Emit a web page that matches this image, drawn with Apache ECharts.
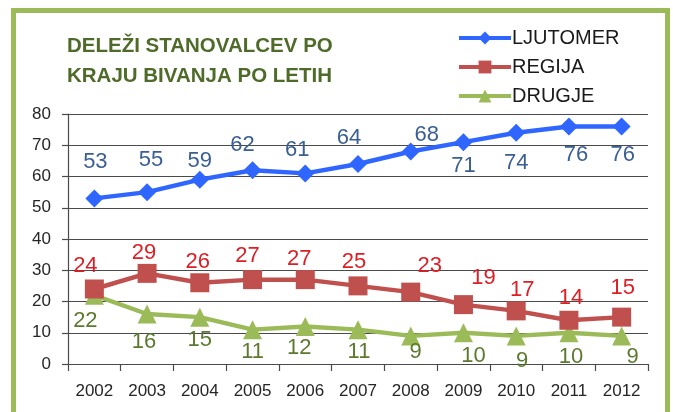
<!DOCTYPE html>
<html>
<head>
<meta charset="utf-8">
<script src="https://cdn.jsdelivr.net/npm/echarts@6/dist/echarts.min.js"></script>
<style>
  html, body { margin: 0; padding: 0; background: #fff; }
  #chart { width: 673px; height: 412px; }
</style>
</head>
<body>
<div id="chart"></div>
<script>
// podatki: deleži stanovalcev po kraju bivanja (%)
const years = ['2002', '2003', '2004', '2005', '2006', '2007', '2008', '2009', '2010', '2011', '2012'];
const ljutomer = [53, 55, 59, 62, 61, 64, 68, 71, 74, 76, 76];
const regija = [24, 29, 26, 27, 27, 25, 23, 19, 17, 14, 15];
const drugje = [22, 16, 15, 11, 12, 11, 9, 10, 9, 10, 9];
const yTicks = [0, 10, 20, 30, 40, 50, 60, 70, 80];

// zamiki oznak glede na točko (kot v izvirni sliki)
const ljutomerOffsets = [[1, -36], [4, -32], [0, -19], [-10, -25], [-8, -23], [-9, -26], [16, -17], [0, 24], [0, 30], [7, 28], [1, 28]];
const regijaOffsets = [[-9, -23], [-3, -20], [-2, -21], [-5, -24], [-6, -21], [-4, -24], [19, -26], [20, -27], [6, -21], [2, -22], [1, -29]];
const drugjeOffsets = [[-9, 26], [-3, 28], [0, 23], [0, 22], [-6, 21], [1, 22], [5, 16], [10, 23], [6, 25], [2, 24], [11, 21]];

const chart = echarts.init(document.getElementById('chart'));

function withLabels(values, offsets) {
  return values.map((v, i) => ({
    value: v,
    label: { offset: offsets[i] }
  }));
}

const axisColor = '#4a4a4a';
const labelFont = 'Liberation Sans';

const option = {
  backgroundColor: '#ffffff',
  animation: false,
  title: {
    text: 'DELEŽI STANOVALCEV PO\nKRAJU BIVANJA PO LETIH',
    left: 62,
    top: 26,
    textStyle: {
      color: '#4f6b2a',
      fontFamily: labelFont,
      fontWeight: 'bold',
      fontSize: 20.5,
      lineHeight: 30
    }
  },
  legend: {
    orient: 'vertical',
    left: 452,
    top: 23,
    itemWidth: 52,
    itemHeight: 16,
    itemGap: 9,
    lineStyle: { width: 4 },
    textStyle: { color: '#1a1a1a', fontFamily: labelFont, fontSize: 20, padding: [0, 0, 0, -4] },
    data: ['LJUTOMER', 'REGIJA', 'DRUGJE']
  },
  graphic: [{
    type: 'rect',
    shape: { x: 13.5, y: 10.5, width: 654, height: 460 },
    style: { fill: 'none', stroke: '#9bbb59', lineWidth: 5 },
    silent: true
  }],
  grid: { left: 68, right: 25, top: 114, bottom: 48 },
  xAxis: {
    type: 'category',
    data: years,
    boundaryGap: true,
    axisLine: { lineStyle: { color: axisColor, width: 1.2 } },
    axisTick: { show: true, length: 7, lineStyle: { color: axisColor, width: 1.2 } },
    axisLabel: { color: '#262626', fontFamily: labelFont, fontSize: 17, margin: 19 },
    splitLine: { show: false }
  },
  yAxis: {
    type: 'value',
    min: yTicks[0],
    max: yTicks[yTicks.length - 1],
    interval: 10,
    axisLine: { show: true, lineStyle: { color: axisColor, width: 1.2 } },
    axisTick: { show: true, length: 6, lineStyle: { color: axisColor, width: 1.2 } },
    axisLabel: { color: '#262626', fontFamily: labelFont, fontSize: 17, margin: 17 },
    splitLine: { show: true, lineStyle: { color: axisColor, width: 1.2 } }
  },
  series: [
    {
      name: 'LJUTOMER',
      type: 'line',
      data: withLabels(ljutomer, ljutomerOffsets),
      symbol: 'diamond',
      symbolSize: 18,
      lineStyle: { color: '#2f66ff', width: 4.5 },
      itemStyle: { color: '#2f66ff' },
      label: {
        show: true, position: 'inside',
        color: '#3a5f93', fontFamily: labelFont, fontSize: 22
      },
      z: 4
    },
    {
      name: 'REGIJA',
      type: 'line',
      data: withLabels(regija, regijaOffsets),
      symbol: 'rect',
      symbolSize: 19,
      lineStyle: { color: '#c0504d', width: 4.5 },
      itemStyle: { color: '#c0504d' },
      label: {
        show: true, position: 'inside',
        color: '#dc1e25', fontFamily: labelFont, fontSize: 22
      },
      z: 3
    },
    {
      name: 'DRUGJE',
      type: 'line',
      data: withLabels(drugje, drugjeOffsets),
      symbol: 'triangle',
      symbolSize: 19,
      lineStyle: { color: '#9bbb59', width: 4.5 },
      itemStyle: { color: '#9bbb59' },
      label: {
        show: true, position: 'inside',
        color: '#5c7a2f', fontFamily: labelFont, fontSize: 22
      },
      z: 2
    }
  ]
};

chart.setOption(option);
</script>
</body>
</html>
